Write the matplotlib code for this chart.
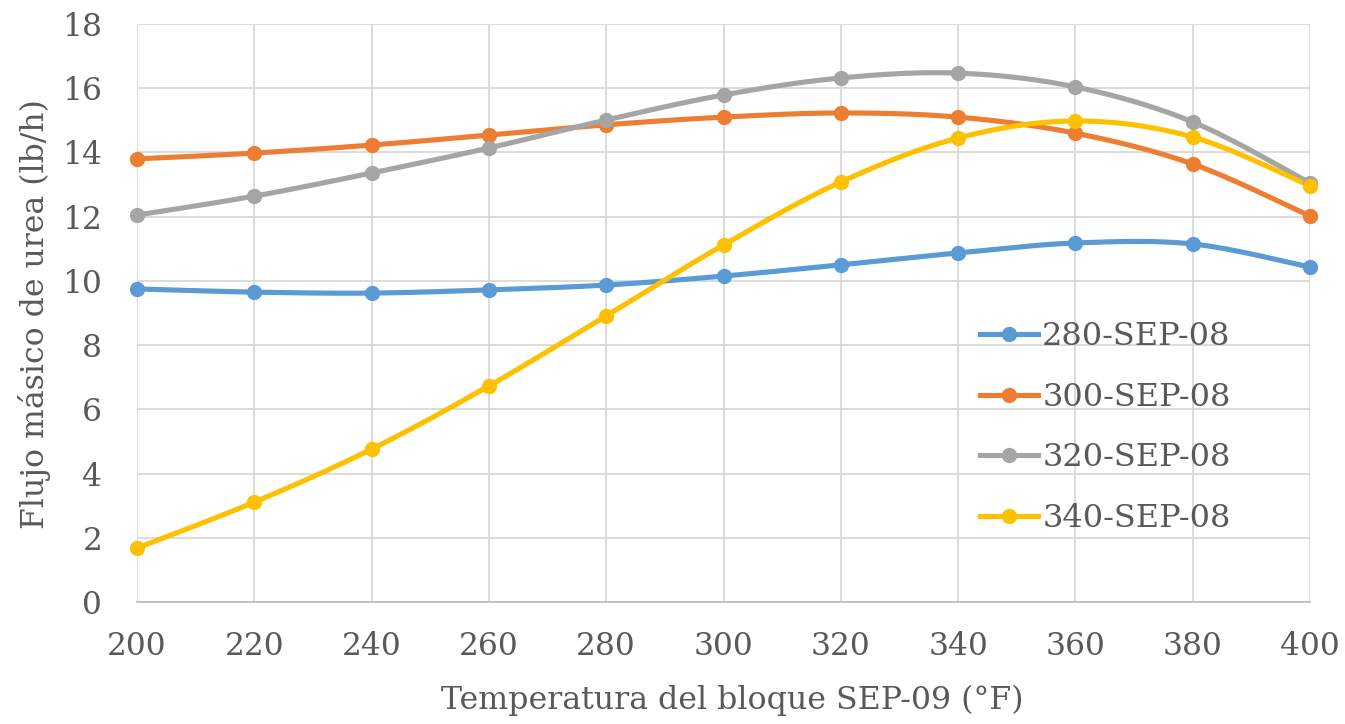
import numpy as np
import matplotlib
matplotlib.use("Agg")
import matplotlib.pyplot as plt
from matplotlib.lines import Line2D

temperaturas = [200, 220, 240, 260, 280, 300, 320, 340, 360, 380, 400]
serie_280 = [9.75, 9.65, 9.62, 9.72, 9.87, 10.15, 10.50, 10.87, 11.18, 11.15, 10.43]
serie_300 = [13.80, 13.98, 14.23, 14.54, 14.86, 15.10, 15.23, 15.10, 14.60, 13.64, 12.02]
serie_320 = [12.05, 12.64, 13.36, 14.14, 15.01, 15.79, 16.32, 16.47, 16.04, 14.95, 13.05]
serie_340 = [1.68, 3.11, 4.76, 6.73, 8.91, 11.12, 13.08, 14.45, 14.98, 14.48, 12.96]
etiquetas = ["280-SEP-08", "300-SEP-08", "320-SEP-08", "340-SEP-08"]
colores = ["#5B9BD5", "#ED7D31", "#A5A5A5", "#FFC000"]

TEXTO = "#595959"
FUENTE = "DejaVu Serif"
ANCHO = 3.7
MARCA = 10


def suavizar(x, y, n=30):
    """Cubic Bezier smoothing through every point (spreadsheet-style)."""
    x = np.asarray(x, float)
    y = np.asarray(y, float)
    px = np.concatenate([[x[0]], x, [x[-1]]])
    py = np.concatenate([[y[0]], y, [y[-1]]])
    xs, ys = [], []
    t = np.linspace(0, 1, n)
    for i in range(len(x) - 1):
        p0 = np.array([px[i + 1], py[i + 1]])
        p3 = np.array([px[i + 2], py[i + 2]])
        c1 = p0 + (np.array([px[i + 2], py[i + 2]]) - np.array([px[i], py[i]])) / 6
        c2 = p3 - (np.array([px[i + 3], py[i + 3]]) - np.array([px[i + 1], py[i + 1]])) / 6
        b = ((1 - t) ** 3)[:, None] * p0 + (3 * (1 - t) ** 2 * t)[:, None] * c1 \
            + (3 * (1 - t) * t ** 2)[:, None] * c2 + (t ** 3)[:, None] * p3
        xs.append(b[:, 0] if i == 0 else b[1:, 0])
        ys.append(b[:, 1] if i == 0 else b[1:, 1])
    return np.concatenate(xs), np.concatenate(ys)


W, H = 1345, 724
fig = plt.figure(figsize=(W / 100, H / 100), dpi=100)
ax = fig.add_axes([137 / W, 1 - 602 / H, (1310 - 137) / W, (602 - 24) / H])

series = [serie_280, serie_300, serie_320, serie_340]
for datos, color in zip(series, colores):
    sx, sy = suavizar(temperaturas, datos)
    ax.plot(sx, sy, color=color, lw=ANCHO, solid_capstyle="round", zorder=3, clip_on=False)
    ax.plot(temperaturas, datos, "o", color=color, ms=MARCA, zorder=4, clip_on=False)

ax.set_xlim(200, 400)
ax.set_ylim(0, 18)
ax.set_xticks(np.arange(200, 401, 20))
ax.set_yticks(np.arange(0, 19, 2))
ax.grid(True, color="#D9D9D9", lw=1.3)
ax.set_axisbelow(True)
for lado in ["top", "right", "left"]:
    ax.spines[lado].set_visible(False)
ax.spines["bottom"].set_color("#BFBFBF")
ax.spines["bottom"].set_linewidth(1.3)
ax.tick_params(length=0, labelsize=22.5, labelcolor=TEXTO)
ax.tick_params(axis="x", pad=21)
ax.tick_params(axis="y", pad=25)
for lab in ax.get_xticklabels() + ax.get_yticklabels():
    lab.set_fontfamily(FUENTE)

ax.set_xlabel("Temperatura del bloque SEP-09 (°F)", fontsize=22.8, color=TEXTO,
              family=FUENTE)
ax.set_ylabel("Flujo másico de urea (lb/h)", fontsize=22.7, color=TEXTO,
              family=FUENTE)
ax.xaxis.set_label_coords(732 / W, 1 - 700 / H, transform=fig.transFigure)
ax.yaxis.set_label_coords(35 / W, 1 - 314 / H, transform=fig.transFigure)
ax.xaxis.label.set_va("center")
ax.yaxis.label.set_va("center")

manijas = [Line2D([], [], color=c, lw=ANCHO, marker="o", ms=MARCA) for c in colores]
ax.legend(manijas, etiquetas, loc="upper left", bbox_to_anchor=(980 / W, 1 - 321 / H),
          bbox_transform=fig.transFigure, frameon=False, labelcolor=TEXTO,
          handlelength=1.8, handletextpad=0.15, labelspacing=0.93,
          borderpad=0, borderaxespad=0, prop={"family": FUENTE, "size": 23})

fig.savefig("out.png", dpi=100, facecolor="white")
